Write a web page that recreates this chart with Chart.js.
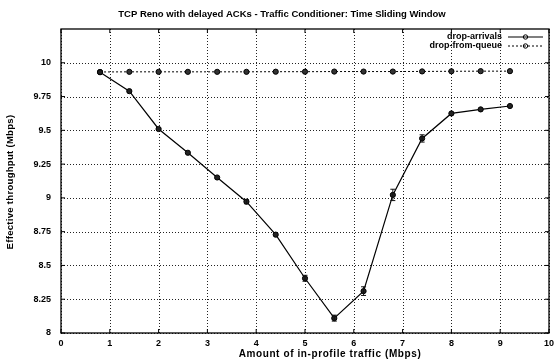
<!DOCTYPE html>
<html><head><meta charset="utf-8">
<script src="https://cdn.jsdelivr.net/npm/chart.js@4/dist/chart.umd.min.js"></script>
<style>html,body{margin:0;padding:0;background:#fff}#wrap{width:559px;height:363px}</style>
</head><body><div id="wrap"><canvas id="c" width="559" height="363"></canvas></div>
<script>
const xValues = [0.8, 1.4, 2.0, 2.6, 3.2, 3.8, 4.4, 5.0, 5.6, 6.2, 6.8, 7.4, 8.0, 8.6, 9.2];
const dropArrivals = [9.93, 9.79, 9.51, 9.334, 9.151, 8.972, 8.728, 8.405, 8.11, 8.31, 9.022, 9.44, 9.625, 9.655, 9.68];
const dropArrivalsErr = [0.006, 0.006, 0.006, 0.006, 0.006, 0.015, 0.01, 0.022, 0.022, 0.032, 0.042, 0.027, 0.006, 0.006, 0.006];
const dropFromQueue = [9.932, 9.933, 9.933, 9.933, 9.933, 9.933, 9.934, 9.934, 9.935, 9.935, 9.935, 9.936, 9.937, 9.938, 9.938];
const dropFromQueueErr = [0.003, 0.003, 0.003, 0.003, 0.003, 0.003, 0.003, 0.003, 0.003, 0.003, 0.003, 0.003, 0.003, 0.003, 0.003];
const seriesNames = ['drop-arrivals', 'drop-from-queue'];
const xTicks = [0, 1, 2, 3, 4, 5, 6, 7, 8, 9, 10];
const yTicks = [8, 8.25, 8.5, 8.75, 9, 9.25, 9.5, 9.75, 10];
const titleText = 'TCP Reno with delayed ACKs - Traffic Conditioner: Time Sliding Window';
const xTitle = 'Amount of in-profile traffic (Mbps)';
const yTitle = 'Effective throughput (Mbps)';

const FONT = '"Liberation Sans", Arial, sans-serif';
const errs = [dropArrivalsErr, dropFromQueueErr];

const dottedGrid = {
  id: 'dottedGrid',
  beforeDatasetsDraw(chart) {
    const ctx = chart.ctx, a = chart.chartArea;
    const xs = chart.scales.x, ys = chart.scales.y;
    ctx.save();
    ctx.strokeStyle = '#222'; ctx.lineWidth = 1; ctx.setLineDash([1, 2]);
    xs.ticks.forEach(t => {
      const px = Math.round(xs.getPixelForValue(t.value)) + 0.5;
      ctx.beginPath(); ctx.moveTo(px, a.top); ctx.lineTo(px, a.bottom); ctx.stroke();
    });
    ys.ticks.forEach(t => {
      const py = Math.round(ys.getPixelForValue(t.value)) + 0.5;
      ctx.beginPath(); ctx.moveTo(a.left, py); ctx.lineTo(a.right, py); ctx.stroke();
    });
    ctx.restore();
  }
};

const deco = {
  id: 'deco',
  afterDatasetsDraw(chart) {
    const ctx = chart.ctx, a = chart.chartArea;
    const xs = chart.scales.x, ys = chart.scales.y;
    ctx.save();
    ctx.strokeStyle = '#111'; ctx.lineWidth = 1; ctx.setLineDash([]);
    chart.data.datasets.forEach((ds, i) => {
      ds.data.forEach((p, j) => {
        const e = errs[i][j];
        const px = xs.getPixelForValue(p.x);
        const y1 = ys.getPixelForValue(p.y - e), y2 = ys.getPixelForValue(p.y + e);
        if (Math.abs(y1 - y2) < 4) return;
        ctx.beginPath();
        ctx.moveTo(px, y1); ctx.lineTo(px, y2);
        ctx.moveTo(px - 2.5, y1); ctx.lineTo(px + 2.5, y1);
        ctx.moveTo(px - 2.5, y2); ctx.lineTo(px + 2.5, y2);
        ctx.stroke();
      });
    });
    ctx.strokeStyle = '#000'; ctx.lineWidth = 1.3;
    ctx.strokeRect(a.left, a.top, a.right - a.left, a.bottom - a.top);
    ctx.lineWidth = 1;
    xTicks.forEach(v => {
      const px = xs.getPixelForValue(v);
      ctx.beginPath(); ctx.moveTo(px, a.bottom); ctx.lineTo(px, a.bottom - 4);
      ctx.moveTo(px, a.top); ctx.lineTo(px, a.top + 4); ctx.stroke();
    });
    yTicks.forEach(v => {
      const py = ys.getPixelForValue(v);
      ctx.beginPath(); ctx.moveTo(a.left, py); ctx.lineTo(a.left + 4, py);
      ctx.moveTo(a.right, py); ctx.lineTo(a.right - 4, py); ctx.stroke();
    });
    ctx.fillStyle = '#000';
    ctx.font = 'bold 9px ' + FONT;
    ctx.textAlign = 'right'; ctx.textBaseline = 'middle';
    const lx1 = 508, lx2 = 543, ly = [37, 46];
    chart.data.datasets.forEach((ds, i) => {
      ctx.fillText(seriesNames[i], 502, ly[i]);
      ctx.setLineDash(ds.borderDash || []);
      ctx.strokeStyle = '#000'; ctx.lineWidth = ds.borderWidth;
      ctx.beginPath(); ctx.moveTo(lx1, ly[i]); ctx.lineTo(lx2, ly[i]); ctx.stroke();
      ctx.setLineDash([]);
      ctx.lineWidth = 1;
      ctx.beginPath(); ctx.arc((lx1 + lx2) / 2, ly[i], 2.2, 0, Math.PI * 2);
      ctx.stroke();
    });
    ctx.textAlign = 'center';
    ctx.font = 'bold 9.5px ' + FONT;
    ctx.fillText(titleText, 282, 14);
    ctx.font = 'bold 10px ' + FONT;
    ctx.letterSpacing = '0.6px';
    ctx.fillText(xTitle, 330, 354);
    ctx.font = 'bold 9.5px ' + FONT;
    ctx.letterSpacing = '0.3px';
    ctx.translate(10, 182); ctx.rotate(-Math.PI / 2);
    ctx.fillText(yTitle, 0, 0);
    ctx.restore();
  }
};

const mk = (ys) => xValues.map((x, i) => ({ x, y: ys[i] }));

new Chart(document.getElementById('c'), {
  type: 'line',
  data: {
    datasets: [
      { label: seriesNames[0], data: mk(dropArrivals), borderColor: '#000', borderWidth: 1.2,
        pointRadius: 2.6, pointBackgroundColor: '#222', pointBorderColor: '#000', pointBorderWidth: 1, tension: 0 },
      { label: seriesNames[1], data: mk(dropFromQueue), borderColor: '#000', borderWidth: 1, borderDash: [2, 2],
        pointRadius: 2.6, pointBackgroundColor: '#333', pointBorderColor: '#000', pointBorderWidth: 1, tension: 0 }
    ]
  },
  options: {
    responsive: false, animation: false, devicePixelRatio: 1,
    layout: { padding: { top: 29, right: 6, left: 0, bottom: 0 } },
    plugins: { legend: { display: false }, tooltip: { enabled: false }, title: { display: false } },
    scales: {
      x: {
        type: 'linear', min: 0, max: 10,
        afterBuildTicks: s => { s.ticks = xTicks.map(v => ({ value: v })); },
        afterFit: s => { s.height = 30; },
        grid: { display: false, drawTicks: false },
        border: { display: false },
        ticks: { color: '#000', padding: 5, font: { family: FONT, size: 9, weight: 'bold' }, maxRotation: 0,
                 callback: v => String(v) }
      },
      y: {
        type: 'linear', min: 8, max: 10.25,
        afterBuildTicks: s => { s.ticks = yTicks.map(v => ({ value: v })); },
        afterFit: s => { s.width = 61; },
        grid: { display: false, drawTicks: false },
        border: { display: false },
        ticks: { color: '#000', padding: 10, font: { family: FONT, size: 9, weight: 'bold' },
                 callback: v => String(Math.round(v * 100) / 100) }
      }
    }
  },
  plugins: [dottedGrid, deco]
});
</script></body></html>
